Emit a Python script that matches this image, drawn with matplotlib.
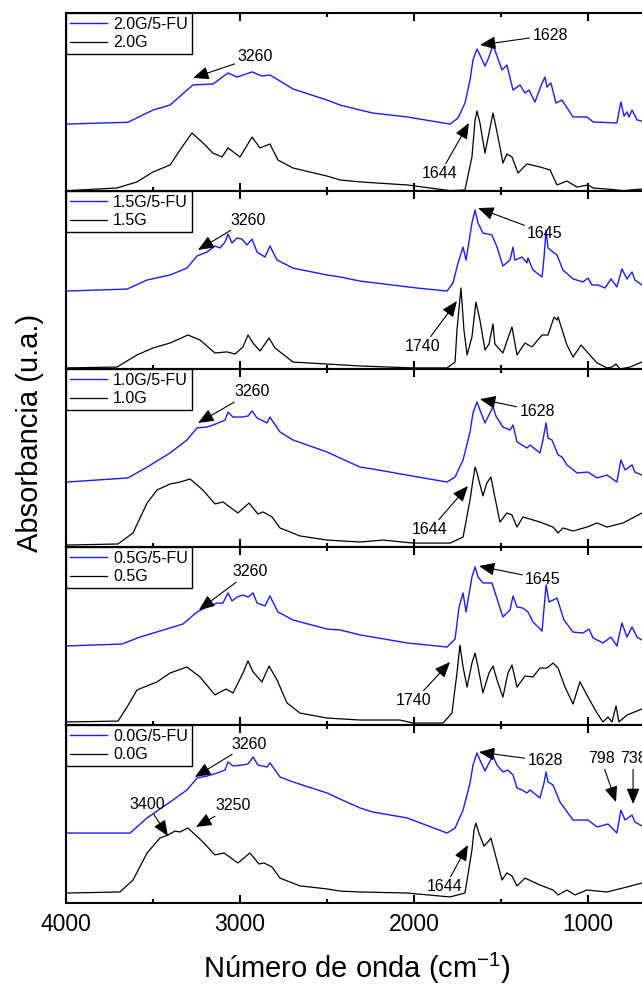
import matplotlib
matplotlib.use('Agg')
import matplotlib.pyplot as plt
from matplotlib.ticker import FixedLocator

plt.rcParams['font.family'] = ['Liberation Sans', 'DejaVu Sans']
plt.rcParams['mathtext.default'] = 'regular'

# ---------------- data (wavenumber cm-1, absorbance a.u.) ----------------
labels_fu = ['2.0G/5-FU', '1.5G/5-FU', '1.0G/5-FU', '0.5G/5-FU', '0.0G/5-FU']
labels_g = ['2.0G', '1.5G', '1.0G', '0.5G', '0.0G']

wn_fu20 = [3994, 3644, 3500, 3402, 3270, 3155, 3069, 3017, 2931, 2874, 2828, 2695, 2500, 2425, 2310, 2236, 2040, 1793, 1747, 1707,
           1678, 1661, 1638, 1621, 1592, 1569, 1546, 1529, 1494, 1466, 1431, 1391, 1362, 1339, 1305, 1264, 1247, 1236, 1213, 1184,
           1150, 1086, 1006, 971, 834, 811, 793, 776, 764, 747, 718, 690]
ab_fu20 = [.376, .386, .455, .483, .596, .601, .663, .640, .669, .646, .652, .573, .511, .483, .455, .438, .416, .376, .410, .494,
           .624, .736, .798, .764, .702, .753, .820, .775, .680, .708, .567, .596, .551, .567, .500, .607, .640, .584, .607, .494,
           .511, .416, .416, .388, .382, .500, .421, .444, .416, .455, .399, .393]
wn_g20 = [3994, 3707, 3592, 3500, 3402, 3345, 3276, 3213, 3155, 3103, 3069, 3000, 2931, 2885, 2828, 2782, 2695, 2500, 2425, 2310,
          2040, 1793, 1707, 1667, 1649, 1638, 1621, 1592, 1569, 1546, 1529, 1506, 1489, 1466, 1437, 1402, 1351, 1276, 1218, 1178,
          1121, 1063, 1000, 971, 891, 799, 690]
ab_g20 = [.002, .017, .051, .107, .146, .230, .326, .270, .213, .191, .242, .191, .303, .242, .264, .174, .129, .084, .062, .051,
          .034, .002, .006, .191, .399, .449, .382, .213, .326, .438, .360, .247, .157, .208, .191, .101, .152, .135, .118, .034,
          .056, .022, .034, .017, .011, .002, .011]

wn_fu15 = [3994, 3649, 3534, 3402, 3305, 3247, 3190, 3144, 3115, 3086, 3069, 3046, 3017, 2989, 2960, 2931, 2902, 2856, 2828, 2787,
           2695, 2500, 2425, 2310, 1983, 1810, 1776, 1747, 1718, 1701, 1667, 1649, 1632, 1604, 1552, 1523, 1489, 1448, 1431, 1420,
           1379, 1351, 1345, 1316, 1264, 1253, 1241, 1230, 1201, 1178, 1144, 1086, 1029, 1000, 977, 943, 902, 868, 834, 805, 776,
           747, 730, 690]
ab_fu15 = [.438, .449, .500, .528, .567, .635, .657, .691, .680, .713, .758, .708, .736, .730, .697, .730, .657, .629, .691, .612,
           .567, .528, .517, .494, .455, .438, .483, .596, .685, .612, .820, .893, .820, .764, .753, .685, .579, .612, .685, .612,
           .629, .596, .624, .556, .517, .624, .781, .680, .657, .640, .556, .506, .489, .511, .472, .472, .455, .506, .461, .562,
           .506, .545, .500, .472]
wn_g15 = [3994, 3707, 3592, 3500, 3402, 3299, 3230, 3144, 3075, 3029, 2983, 2954, 2925, 2885, 2833, 2799, 2695, 2500, 2310, 2006,
          1810, 1764, 1753, 1730, 1713, 1695, 1667, 1644, 1621, 1592, 1569, 1546, 1535, 1489, 1460, 1437, 1408, 1362, 1322, 1264,
          1230, 1195, 1178, 1172, 1121, 1086, 1040, 1000, 948, 891, 862, 839, 816, 759, 690]
ab_g15 = [.006, .011, .079, .118, .146, .191, .163, .090, .096, .084, .124, .191, .146, .101, .174, .118, .039, .028, .017, .006,
          .006, .039, .219, .455, .219, .079, .180, .376, .275, .107, .140, .253, .140, .090, .174, .236, .079, .146, .124, .191,
          .191, .292, .275, .292, .135, .067, .135, .090, .034, .006, .011, .028, .000, .011, .039]

wn_fu10 = [3994, 3644, 3534, 3402, 3305, 3247, 3190, 3155, 3086, 3069, 3040, 2989, 2954, 2931, 2902, 2845, 2828, 2770, 2695, 2500,
           2425, 2310, 2236, 2040, 1810, 1764, 1718, 1678, 1661, 1638, 1621, 1592, 1569, 1546, 1529, 1489, 1448, 1431, 1408, 1379,
           1351, 1333, 1276, 1259, 1241, 1230, 1207, 1172, 1150, 1121, 1063, 1000, 948, 891, 834, 811, 787, 747, 730, 690]
ab_fu10 = [.365, .388, .449, .528, .601, .669, .674, .685, .713, .758, .730, .730, .736, .764, .725, .697, .730, .646, .601, .534,
           .500, .449, .438, .404, .365, .393, .489, .646, .753, .815, .770, .697, .742, .787, .736, .674, .657, .685, .590, .573,
           .556, .573, .528, .601, .697, .612, .601, .517, .506, .461, .416, .421, .388, .404, .365, .489, .433, .461, .421, .404]
wn_g10 = [3994, 3701, 3615, 3534, 3477, 3402, 3345, 3287, 3213, 3144, 3098, 3012, 2948, 2897, 2868, 2816, 2770, 2655, 2500, 2310,
          2178, 2006, 1793, 1718, 1678, 1661, 1649, 1638, 1604, 1581, 1558, 1540, 1506, 1466, 1437, 1408, 1374, 1276, 1201, 1172,
          1144, 1086, 1006, 948, 891, 799, 690]
ab_g10 = [.011, .017, .079, .247, .320, .354, .365, .382, .320, .242, .253, .191, .247, .185, .197, .169, .107, .062, .039, .028,
          .039, .022, .022, .056, .264, .376, .449, .416, .287, .360, .393, .303, .140, .191, .180, .112, .169, .140, .112, .079,
          .107, .090, .112, .135, .112, .135, .191]

wn_fu05 = [3994, 3678, 3575, 3460, 3328, 3247, 3190, 3132, 3098, 3069, 3046, 3017, 2983, 2954, 2925, 2902, 2856, 2828, 2782, 2695,
           2500, 2425, 2310, 2236, 2040, 1810, 1764, 1741, 1718, 1701, 1667, 1649, 1632, 1604, 1552, 1489, 1448, 1431, 1408, 1374,
           1345, 1316, 1264, 1241, 1224, 1178, 1138, 1086, 1029, 994, 971, 914, 868, 834, 805, 776, 747, 718, 690]
ab_fu05 = [.444, .455, .494, .528, .567, .635, .663, .685, .685, .742, .697, .719, .730, .719, .742, .685, .669, .725, .635, .590,
           .539, .534, .506, .494, .461, .438, .483, .663, .742, .635, .831, .888, .831, .798, .798, .607, .646, .725, .663, .657,
           .635, .579, .528, .787, .691, .713, .590, .522, .517, .539, .489, .461, .494, .444, .573, .494, .551, .494, .478]
wn_g05 = [3994, 3701, 3649, 3592, 3477, 3402, 3305, 3230, 3144, 3080, 3040, 2983, 2954, 2925, 2874, 2833, 2787, 2730, 2655, 2500,
          2310, 2081, 2006, 1833, 1782, 1753, 1736, 1718, 1695, 1667, 1649, 1632, 1604, 1569, 1546, 1523, 1489, 1460, 1437, 1408,
          1362, 1316, 1276, 1236, 1201, 1172, 1132, 1086, 1046, 1000, 948, 914, 885, 862, 839, 822, 776, 690]
ab_g05 = [.017, .022, .101, .197, .242, .292, .326, .270, .169, .202, .180, .292, .360, .298, .242, .331, .253, .124, .067, .039,
          .028, .028, .011, .011, .067, .292, .449, .326, .213, .348, .404, .326, .180, .292, .331, .253, .157, .292, .337, .213,
          .275, .270, .320, .320, .348, .320, .213, .118, .242, .157, .067, .017, .045, .017, .107, .017, .056, .090]

wn_fu00 = [3994, 3632, 3534, 3402, 3305, 3247, 3190, 3132, 3086, 3069, 3040, 2989, 2954, 2925, 2897, 2845, 2828, 2770, 2695, 2500,
           2425, 2310, 2236, 2040, 1810, 1764, 1718, 1678, 1661, 1638, 1621, 1592, 1569, 1546, 1523, 1489, 1460, 1431, 1408, 1379,
           1351, 1333, 1276, 1253, 1241, 1230, 1201, 1161, 1086, 1000, 948, 885, 834, 811, 787, 747, 730, 690]
ab_fu00 = [.393, .393, .478, .567, .635, .702, .713, .730, .747, .792, .770, .775, .781, .820, .775, .764, .787, .708, .680, .618,
           .584, .534, .511, .478, .393, .421, .522, .674, .775, .843, .803, .742, .787, .826, .775, .736, .747, .719, .646, .635,
           .618, .635, .590, .674, .736, .680, .663, .567, .466, .466, .427, .444, .393, .522, .466, .494, .455, .433]
wn_g00 = [3994, 3690, 3615, 3534, 3460, 3414, 3374, 3345, 3299, 3213, 3144, 3092, 3012, 2943, 2891, 2862, 2816, 2770, 2655, 2500,
          2425, 2310, 2040, 1793, 1707, 1667, 1655, 1644, 1627, 1598, 1575, 1558, 1540, 1494, 1466, 1437, 1408, 1362, 1276, 1201,
          1172, 1121, 1075, 1006, 891, 776, 690]
ab_g00 = [.056, .062, .129, .281, .365, .382, .404, .399, .421, .343, .270, .281, .225, .281, .219, .225, .202, .140, .096, .079,
          .067, .062, .056, .034, .056, .298, .410, .449, .393, .320, .343, .365, .298, .129, .169, .152, .096, .140, .101, .073,
          .045, .073, .045, .073, .062, .090, .112]

# annotations: (text, tip wavenumber, tip absorbance, text wavenumber, text absorbance)
notes_20 = [('3260', 3270, .635, 2914, .753), ('1628', 1621, .820, 1218, .876), ('1644', 1684, .382, 1851, .096)]
notes_15 = [('3260', 3241, .669, 2954, .837), ('1645', 1632, .904, 1247, .764), ('1740', 1753, .382, 1948, .124)]
notes_10 = [('3260', 3241, .697, 2931, .871), ('1628', 1621, .831, 1293, .764), ('1644', 1690, .343, 1908, .096)]
notes_05 = [('3260', 3236, .646, 2943, .860), ('1645', 1627, .893, 1259, .820), ('1740', 1793, .354, 2000, .135)]
notes_00 = [('3260', 3259, .708, 2948, .893), ('3400', 3414, .376, 3534, .556), ('3250', 3253, .427, 3040, .545),
            ('1628', 1627, .848, 1247, .798), ('1644', 1690, .326, 1822, .090), ('798', 839, .567, 925, .809),
            ('738', 741, .556, 741, .809)]

fu_series = [(wn_fu20, ab_fu20), (wn_fu15, ab_fu15), (wn_fu10, ab_fu10), (wn_fu05, ab_fu05), (wn_fu00, ab_fu00)]
g_series = [(wn_g20, ab_g20), (wn_g15, ab_g15), (wn_g10, ab_g10), (wn_g05, ab_g05), (wn_g00, ab_g00)]
notes = [notes_20, notes_15, notes_10, notes_05, notes_00]

major_ticks = [4000, 3000, 2000, 1000]
minor_ticks = [3500, 2500, 1500, 500]

# ---------------- figure ----------------
W, H = 642, 991
fig = plt.figure(figsize=(W / 100, H / 100), dpi=100)

x_left, x_right = 4000, 400
px_per_unit = 0.174
left = 66 / W
width = (x_left - x_right) * px_per_unit / W
tops = [13, 191, 369, 547, 725]
ph = 178

for i in range(5):
    bottom = 1 - (tops[i] + ph) / H
    ax = fig.add_axes([left, bottom, width, ph / H])
    wb, ab = fu_series[i]
    wg, ag = g_series[i]
    ax.plot(wb, ab, color='#1a1aff', lw=1.0, label=labels_fu[i], solid_joinstyle='round')
    ax.plot(wg, ag, color='black', lw=0.9, label=labels_g[i], solid_joinstyle='round')
    ax.set_xlim(x_left, x_right)
    ax.set_ylim(0, 1)
    ax.set_yticks([])
    ax.xaxis.set_major_locator(FixedLocator(major_ticks))
    ax.xaxis.set_minor_locator(FixedLocator(minor_ticks))
    ax.tick_params(axis='x', which='both', direction='in', top=True, bottom=True, width=1.5)
    ax.tick_params(axis='x', which='major', length=6, labelsize=16.5, pad=7)
    ax.tick_params(axis='x', which='minor', length=3)
    if i < 4:
        ax.tick_params(axis='x', which='both', labelbottom=False)
    for s in ax.spines.values():
        s.set_linewidth(1.5)
    leg = ax.legend(loc='upper left', borderaxespad=0, fontsize=11.5, frameon=True, fancybox=False,
                    edgecolor='black', framealpha=1, handlelength=2.3, handletextpad=0.4,
                    labelspacing=0.2, borderpad=0.25)
    leg.get_frame().set_linewidth(1.0)
    for txt, tx, ty, lx, ly in notes[i]:
        ax.annotate(txt, xy=(tx, ty), xytext=(lx, ly), ha='center', va='center', fontsize=11.5,
                    annotation_clip=False,
                    arrowprops=dict(arrowstyle='-|>,head_length=0.6,head_width=0.25', color='black',
                                    lw=0.8, mutation_scale=16, shrinkA=0, shrinkB=0))

fig.text(30 / W, 1 - 433 / H, 'Absorbancia (u.a.)', rotation=90, ha='center', va='center', fontsize=21)
fig.text(357 / W, 1 - 968 / H, 'Número de onda (cm$^{-1}$)', ha='center', va='center', fontsize=21)

fig.savefig('out.png', dpi=100)
